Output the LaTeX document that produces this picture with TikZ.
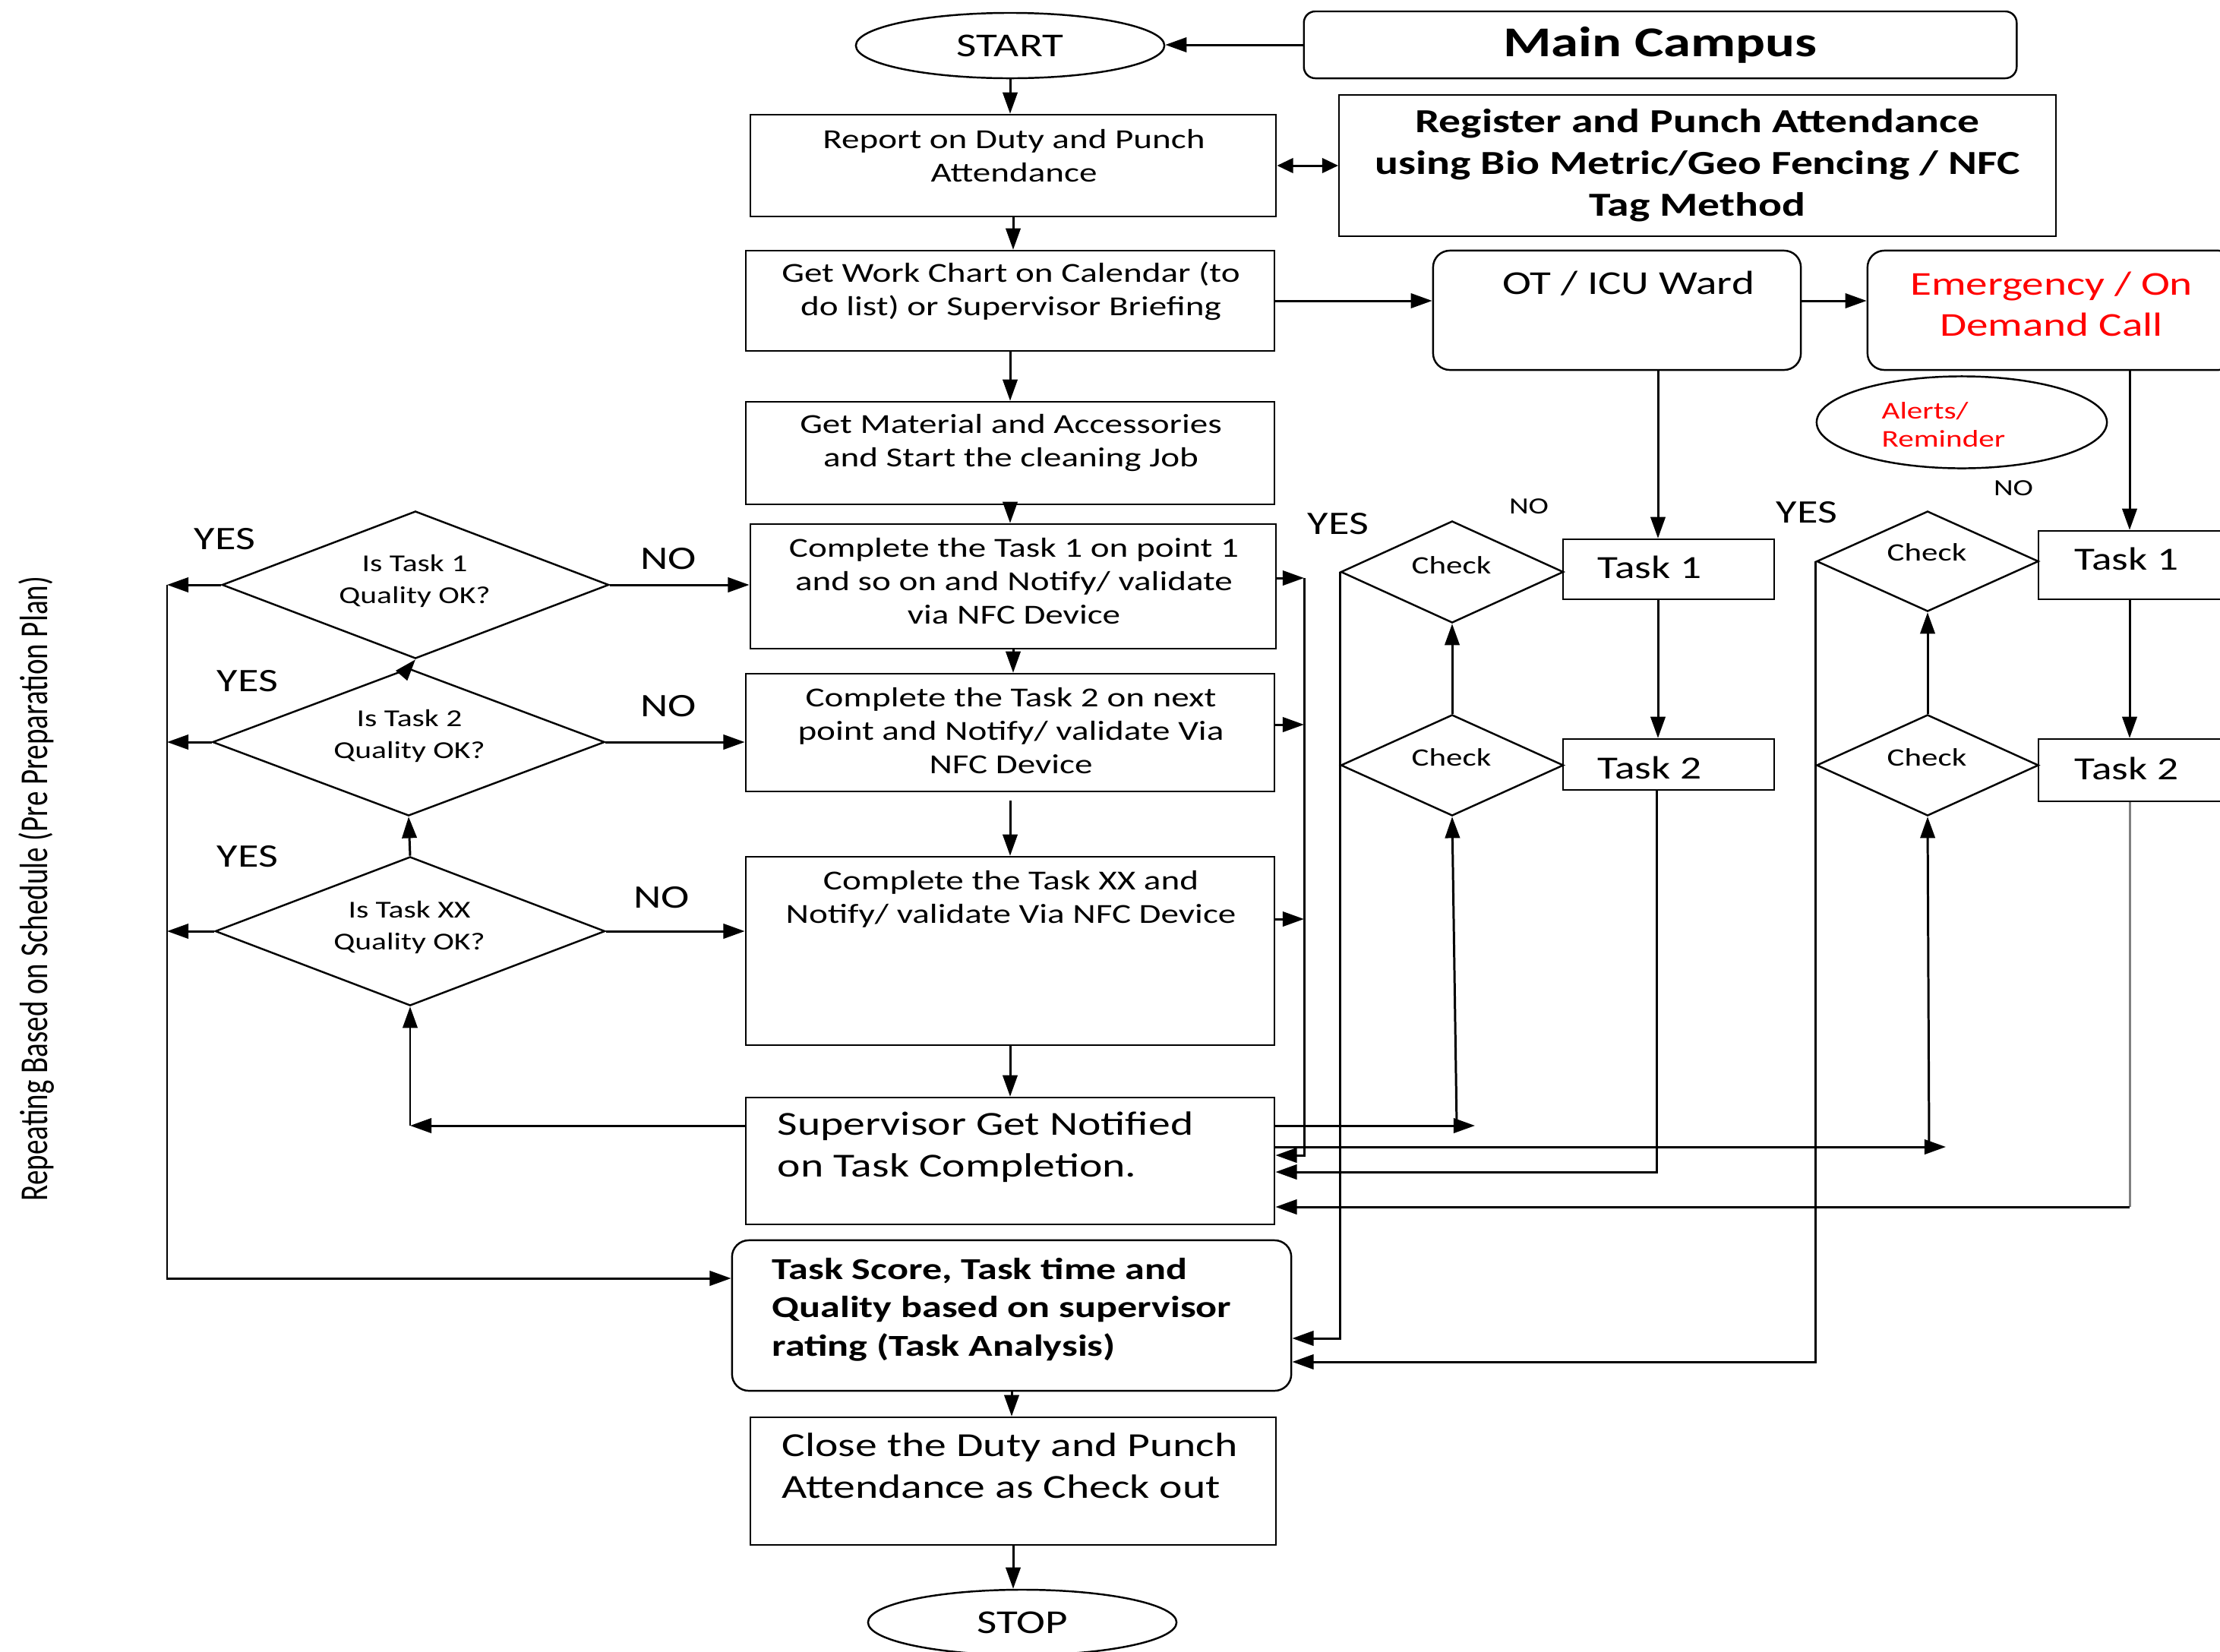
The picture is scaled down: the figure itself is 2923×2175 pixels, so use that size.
\documentclass[tikz,border=0pt]{standalone}
\usepackage{fontspec}
\setmainfont[FakeStretch=1.3]{Carlito}
\newfontfamily\rotfont[FakeStretch=0.75]{Carlito}
\usetikzlibrary{shapes.geometric, arrows.meta}
\newcommand\fsz[2]{\fontsize{#1}{#2}\selectfont}
\begin{document}
\begin{tikzpicture}[x=0.01cm, y=-0.01cm,
  box/.style={draw, line width=0.7pt, inner sep=0pt, rectangle},
  rbox/.style={box, rounded corners=0.22cm},
  oval/.style={draw, line width=0.7pt, ellipse, inner sep=0pt},
  dia/.style={draw, line width=0.7pt, diamond, inner sep=0pt},
  txt/.style={inner sep=0pt, align=center},
  ltxt/.style={inner sep=0pt, align=left, anchor=west},
  small/.style={font=\fsz{10.3pt}{12.5pt}},
  big/.style={font=\fsz{12.6pt}{15.6pt}},
  qtxt/.style={txt, font=\fsz{9.1pt}{11.7pt}},
  chk/.style={txt, font=\fsz{9.4pt}{11pt}},
  tsk/.style={ltxt, font=\fsz{12.1pt}{14pt}},
  yn/.style={txt, font=\fsz{12.3pt}{14pt}},
  yns/.style={txt, font=\fsz{8.7pt}{10pt}},
  arr/.style={line width=0.85pt, -{Triangle[length=8pt,width=5.5pt]}},
  darr/.style={line width=0.85pt, {Triangle[length=6pt,width=5.5pt]}-{Triangle[length=6pt,width=5.5pt]}},
  ln/.style={line width=0.85pt},
]
\useasboundingbox (0,0) rectangle (2923,2175);
\fill[white] (0,0) rectangle (2923,2175);
\clip (0,0) rectangle (2923,2175);

% ---------- main column ----------
\node[oval, minimum width=4.06cm, minimum height=0.86cm, font=\fsz{12.5pt}{15pt}] (start) at (1330,60) {START};
\node[rbox, rounded corners=0.15cm, minimum width=9.38cm, minimum height=0.88cm, font=\bfseries\fsz{15.9pt}{19pt}] (campus) at (2186,59) {Main Campus};

\node[box, minimum width=6.92cm, minimum height=1.34cm] (report) at (1334,218) {};
\node[txt, small] (reportT) at (1335,205) {Report on Duty and Punch\\Attendance};

\node[box, minimum width=9.43cm, minimum height=1.86cm, align=center, font=\bfseries\fsz{12.6pt}{15.6pt}] (register) at (2235,218) {Register and Punch Attendance\\using Bio Metric/Geo Fencing / NFC\\Tag Method};

\node[box, minimum width=6.96cm, minimum height=1.32cm] (work) at (1330,396) {};
\node[txt, small] (workT) at (1331,383) {Get Work Chart on Calendar (to\\do list) or Supervisor Briefing};

\node[box, minimum width=6.96cm, minimum height=1.35cm] (mat) at (1330,596.5) {};
\node[txt, small] (matT) at (1331,583) {Get Material and Accessories\\and Start the cleaning Job};

\node[box, minimum width=6.92cm, minimum height=1.64cm] (t1) at (1334,772) {};
\node[txt, small] (t1T) at (1335,765) {Complete the Task 1 on point 1\\and so on and Notify/ validate\\via NFC Device};

\node[box, minimum width=6.96cm, minimum height=1.55cm] (t2) at (1330,964.5) {};
\node[txt, small] (t2T) at (1331,962) {Complete the Task 2 on next\\point and Notify/ validate Via\\NFC Device};

\node[box, minimum width=6.96cm, minimum height=2.48cm] (txx) at (1330,1252) {};
\node[txt, small] (txxT) at (1331,1184) {Complete the Task XX and\\Notify/ validate Via NFC Device};

\node[box, minimum width=6.96cm, minimum height=1.67cm] (sup) at (1330,1528.5) {};
\node[ltxt, big] (supT) at (1023,1510) {Supervisor Get Notified\\on Task Completion.};

\node[rbox, minimum width=7.36cm, minimum height=1.98cm] (score) at (1332,1732) {};
\node[ltxt, font=\bfseries\fsz{11.4pt}{14.3pt}] (scoreT) at (1016,1724) {Task Score, Task time and\\Quality based on supervisor\\rating (Task Analysis)};

\node[box, minimum width=6.92cm, minimum height=1.68cm] (close) at (1334,1950) {};
\node[ltxt, big] (closeT) at (1029,1930) {Close the Duty and Punch\\Attendance as Check out};

\node[oval, minimum width=4.06cm, minimum height=0.86cm, font=\fsz{12.5pt}{15pt}] (stop) at (1346,2136) {STOP};

% ---------- right side ----------
\node[rbox, minimum width=4.84cm, minimum height=1.57cm] (ot) at (2129,408.5) {};
\node[txt, font=\fsz{12.5pt}{15.4pt}] (otT) at (2144,373) {OT / ICU Ward};
\node[rbox, minimum width=4.84cm, minimum height=1.57cm] (emer) at (2701,408.5) {};
\node[txt, font=\fsz{12.5pt}{15.4pt}, text=red] (emerT) at (2701,400) {Emergency / On\\Demand Call};
\node[oval, minimum width=3.82cm, minimum height=1.21cm] (alert) at (2583,556) {};
\node[ltxt, font=\fsz{9pt}{10.6pt}, text=red] (alertT) at (2477,559) {Alerts/\\Reminder};

\node[dia, minimum width=2.93cm, minimum height=1.34cm] (c1) at (1912,753) {};
\node[chk] (c1T) at (1911,744) {Check};
\node[dia, minimum width=2.93cm, minimum height=1.33cm] (c2) at (1912,1007.5) {};
\node[chk] (c2T) at (1911,997) {Check};
\node[dia, minimum width=2.92cm, minimum height=1.32cm] (c3) at (2538,739) {};
\node[chk] (c3T) at (2537,727) {Check};
\node[dia, minimum width=2.92cm, minimum height=1.33cm] (c4) at (2538,1007.5) {};
\node[chk] (c4T) at (2537,997) {Check};

\node[box, minimum width=2.78cm, minimum height=0.79cm] (a1) at (2197,749.5) {};
\node[tsk] (a1T) at (2103,747) {Task 1};
\node[box, minimum width=2.78cm, minimum height=0.67cm] (a2) at (2197,1006.5) {};
\node[tsk] (a2T) at (2103,1011) {Task 2};
\node[box, minimum width=2.78cm, minimum height=0.90cm] (b1) at (2823,744) {};
\node[tsk] (b1T) at (2731,736) {Task 1};
\node[box, minimum width=2.78cm, minimum height=0.82cm] (b2) at (2823,1014) {};
\node[tsk] (b2T) at (2731,1012) {Task 2};

% ---------- left diamonds ----------
\node[dia, minimum width=5.09cm, minimum height=1.94cm] (d1) at (547,770) {};
\node[qtxt] (d1T) at (546,765) {Is Task 1\\Quality OK?};
\node[dia, minimum width=5.16cm, minimum height=1.94cm] (d2) at (538,977) {};
\node[qtxt] (d2T) at (539,969) {Is Task 2\\Quality OK?};
\node[dia, minimum width=5.13cm, minimum height=1.96cm] (d3) at (540,1226) {};
\node[qtxt] (d3T) at (539,1221) {Is Task XX\\Quality OK?};

\node[rotate=90, inner sep=0pt, font=\rotfont\fsz{14.8pt}{16pt}] (side) at (48,1170) {Repeating Based on Schedule (Pre Preparation Plan)};

% labels
\node[yn] (y1) at (296,710) {YES};
\node[yn] (y2) at (326,897) {YES};
\node[yn] (y3) at (326,1128) {YES};
\node[yn] (n1) at (880,736) {NO};
\node[yn] (n2) at (880,930) {NO};
\node[yn] (n3) at (871,1182) {NO};
\node[yn] (y4) at (1762,690) {YES};
\node[yn] (y5) at (2379,675) {YES};
\node[yns] (n4) at (2013,667) {NO};
\node[yns] (n5) at (2651,643) {NO};

% ---------- connectors: main column ----------
\draw[arr] (campus.west) -- (campus.west -| start.east);
\draw[arr] (start.south) -- (start.south |- report.north);
\draw[darr] (report.east) -- (register.west);
\draw[arr] (report.south) -- (report.south |- work.north);
\draw[arr] (work.east) -- (work.east -| ot.west);
\draw[arr] (ot.east |- work.east) -- (emer.west |- work.east);
\draw[arr] (work.south) -- (mat.north);
\draw[arr] (mat.south) -- (mat.south |- t1.north);
\draw[arr] (t1.south) -- (t1.south |- t2.north);
\draw[arr] ([yshift=-0.11cm]t2.south) -- (txx.north);
\draw[arr] (txx.south) -- (sup.north);
\draw[arr] (score.south) -- (score.south |- close.north);
\draw[arr] (close.south) -- (close.south |- stop.north);

% ---------- connectors: left ----------
\coordinate (yesx) at (220,768);
\coordinate (ybot) at (220,1683);
\coordinate (supl) at (540,1482);
\draw[arr] (d1.east) -- (d1.east -| t1.west);
\draw[arr] (d2.east) -- (d2.east -| t2.west);
\draw[arr] (d3.east) -- (d3.east -| txx.west);
\draw[arr] (d1.west) -- (d1.west -| yesx);
\draw[arr] (d2.west) -- (d2.west -| yesx);
\draw[arr] (d3.west) -- (d3.west -| yesx);
\draw[arr] (yesx |- d1.west) -- (ybot) -- (ybot -| score.west);
\draw[arr] (d2.north) -- (d1.south);
\draw[arr] (d3.north) -- (d2.south);
\draw[arr] (sup.west |- supl) -- (supl);
\draw[arr] (supl) -- (d3.south);

% ---------- connectors: right ----------
\coordinate (r1) at (1717,761);
\coordinate (r2) at (1717,954);
\coordinate (r3) at (1717,1210);
\coordinate (r4) at (1717,1521);
\draw[arr] (t1.east |- r1) -- (r1);
\draw[arr] (t2.east |- r2) -- (r2);
\draw[arr] (txx.east |- r3) -- (r3);
\draw[arr] (r1) -- (r4) -- (sup.east |- r4);

\coordinate (g1) at (1765,1762);
\draw[arr] (c1.west) -- (c1.west |- g1) -- (g1 -| score.east);
\coordinate (g2) at (2392,1793);
\draw[arr] (c3.west) -- (c3.west |- g2) -- (g2 -| score.east);

\coordinate (o1) at (1918,1482);
\coordinate (o1e) at (1942,1482);
\draw[arr] (sup.east |- o1) -- (o1e);
\draw[arr] (o1) -- (c2.south);
\draw[arr] (c2.north) -- (c1.south);

\coordinate (e1) at (2540,1510);
\coordinate (e1e) at (2562,1510);
\draw[arr] (sup.east |- e1) -- (e1e);
\draw[arr] (e1) -- (c4.south);
\draw[arr] (c4.north) -- (c3.south);

\coordinate (otx) at (2183,0);
\draw[arr] (ot.south -| otx) -- (a1.north -| otx);
\draw[arr] (a1.south -| otx) -- (a2.north -| otx);
\coordinate (o2) at (2181,1543);
\draw[arr] (a2.south -| o2) -- (o2) -- (sup.east |- o2);

\coordinate (emx) at (2804,0);
\draw[arr] (emer.south -| emx) -- (b1.north -| emx);
\draw[arr] (b1.south -| emx) -- (b2.north -| emx);
\coordinate (e2) at (2804,1589);
\draw[ln, gray] (b2.south -| e2) -- (e2);
\draw[arr] (e2) -- (sup.east |- e2);
\end{tikzpicture}
\end{document}
